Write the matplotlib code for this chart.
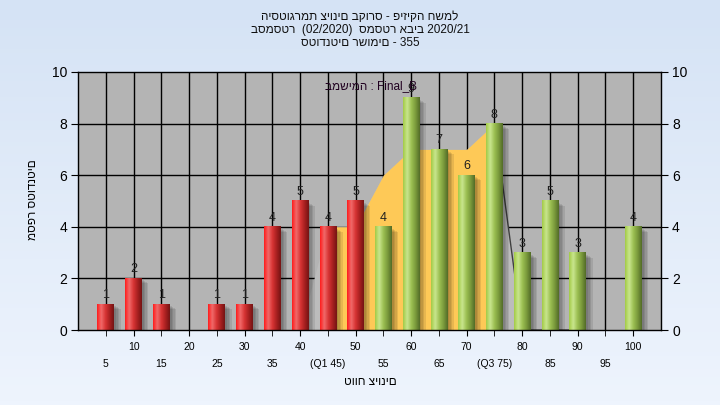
import matplotlib
matplotlib.use('Agg')
import matplotlib.pyplot as plt
import numpy as np
from matplotlib.colors import LinearSegmentedColormap
from matplotlib.patches import Rectangle
from matplotlib.transforms import ScaledTranslation

plt.rcParams['font.family'] = ['Liberation Sans', 'DejaVu Sans']

# data
grades = [5, 10, 15, 20, 25, 30, 35, 40, 45, 50, 55, 60, 65, 70, 75, 80, 85, 90, 95, 100]
counts = [1, 2, 1, 0, 1, 1, 4, 5, 4, 5, 4, 9, 7, 6, 8, 3, 5, 3, 0, 4]
pass_grade = 55
q1, q3 = 45, 75
# curve behind the bars (grade, value)
curve_grades = [40, 45, 50, 55, 60, 65, 70, 75, 80, 85, 90]
curve_vals = [0, 4, 4, 6, 7, 7, 7, 8, 0, 0, 0]

title_lines = ['היסטוגרמת ציונים בקורס - פיזיקה חשמל',
               'בסמסטר  (02/2020)  סמסטר אביב 2020/21',
               'סטודנטים רשומים - 355']
legend_text = 'במשימה : Final_B'
xlabel = 'טווח ציונים'
ylabel = 'מספר סטודנטים'

W, H = 720, 405
fig = plt.figure(figsize=(7.2, 4.05), dpi=100)

# light blue gradient background
bg = fig.add_axes([0, 0, 1, 1], zorder=-10)
bg.imshow(np.linspace(0, 1, 100).reshape(-1, 1), aspect='auto',
          cmap=LinearSegmentedColormap.from_list('bg', ['#d5e3f5', '#eef4fd']),
          extent=[0, 1, 0, 1])
bg.axis('off')

ax = fig.add_axes([78 / W, 1 - 330 / H, (661 - 78) / W, (330 - 72) / H])
ax.set_facecolor('#b4b4b4')

xpos = np.arange(1, len(grades) + 1)
pos_of = dict(zip(grades, xpos))

# grid
for x in xpos:
    ax.axvline(x, color='black', lw=1, zorder=1)
for y in range(2, 10, 2):
    ax.axhline(y, color='black', lw=1, zorder=1)

# curve area: light grey outside quartiles, yellow between them
cx = np.array([pos_of[g] for g in curve_grades], dtype=float)
cy = np.array(curve_vals, dtype=float)
ax.fill_between(cx, 0, cy, color='#bcbcbc', lw=0, zorder=2)
inq = (cx >= pos_of[q1]) & (cx <= pos_of[q3])
ax.fill_between(cx[inq], 0, cy[inq], color='#fec957', lw=0, zorder=3)
right = cx >= pos_of[q3]
ax.plot(cx[right], cy[right], color='#404040', lw=1, zorder=3)

red_cm = LinearSegmentedColormap.from_list(
    'red', ['#ff1c1c', '#f06a6a', '#d83434', '#a82020', '#741414'])
green_cm = LinearSegmentedColormap.from_list(
    'green', ['#a3cb46', '#c9e68e', '#9cbf52', '#7a9a3c', '#536c28'])
grad = np.linspace(0, 1, 64).reshape(1, -1)

bw = 0.6
for g, x, c in zip(grades, xpos, counts):
    if c == 0:
        continue
    x0 = x - bw / 2
    # soft shadow to the lower right
    for k in range(4):
        sh = Rectangle((x0, 0), bw, c, color='black', alpha=0.09, lw=0, zorder=4,
                       transform=ax.transData + ScaledTranslation((2 + k * 1.5) / 100, -(2 + k) / 100,
                                                                  fig.dpi_scale_trans))
        ax.add_patch(sh)
    cm = red_cm if g < pass_grade else green_cm
    ax.imshow(grad, cmap=cm, aspect='auto', extent=[x0, x0 + bw, 0, c], zorder=5,
              interpolation='bilinear')
    ax.text(x, c + 0.12, str(c), ha='center', va='bottom', fontsize=9,
            color='#202020', zorder=6)

ax.set_xlim(0, len(grades) + 1)
ax.set_ylim(0, 10)

# tick labels: even grades on the first row, odd ones below
def lab(g):
    if g == q1:
        return '(Q1 %d)' % g
    if g == q3:
        return '(Q3 %d)' % g
    return str(g)

major = [pos_of[g] for g in grades if g % 10 == 0]
minor = [pos_of[g] for g in grades if g % 10 != 0]
ax.set_xticks(major)
ax.set_xticklabels([lab(g) for g in grades if g % 10 == 0])
ax.set_xticks(minor, minor=True)
ax.set_xticklabels([lab(g) for g in grades if g % 10 != 0], minor=True)
ax.tick_params(axis='x', which='major', length=4, pad=4.5, labelsize=7.5)
ax.tick_params(axis='x', which='minor', length=4, pad=17, labelsize=7.5)

ax.set_yticks(range(0, 11, 2))
ax.tick_params(axis='y', length=5, pad=3, labelsize=10, right=True, labelright=True)
for s in ax.spines.values():
    s.set_color('black')
    s.set_linewidth(1)
    s.set_zorder(7)

ax.text(0.503, 0.946, legend_text, transform=ax.transAxes, ha='center', va='center',
        fontsize=8.5, color='#200020', zorder=6)

for i, t in enumerate(title_lines):
    fig.text(0.5, 1 - (17 + 13 * i) / H, t, ha='center', va='center', fontsize=8.5,
             color='#101010')
fig.text(370 / W, 1 - 382 / H, xlabel, ha='center', va='center', fontsize=8.5)
fig.text(33 / W, 1 - 200 / H, ylabel, ha='center', va='center', fontsize=8.5, rotation=90)

fig.savefig('out.png', dpi=100)
